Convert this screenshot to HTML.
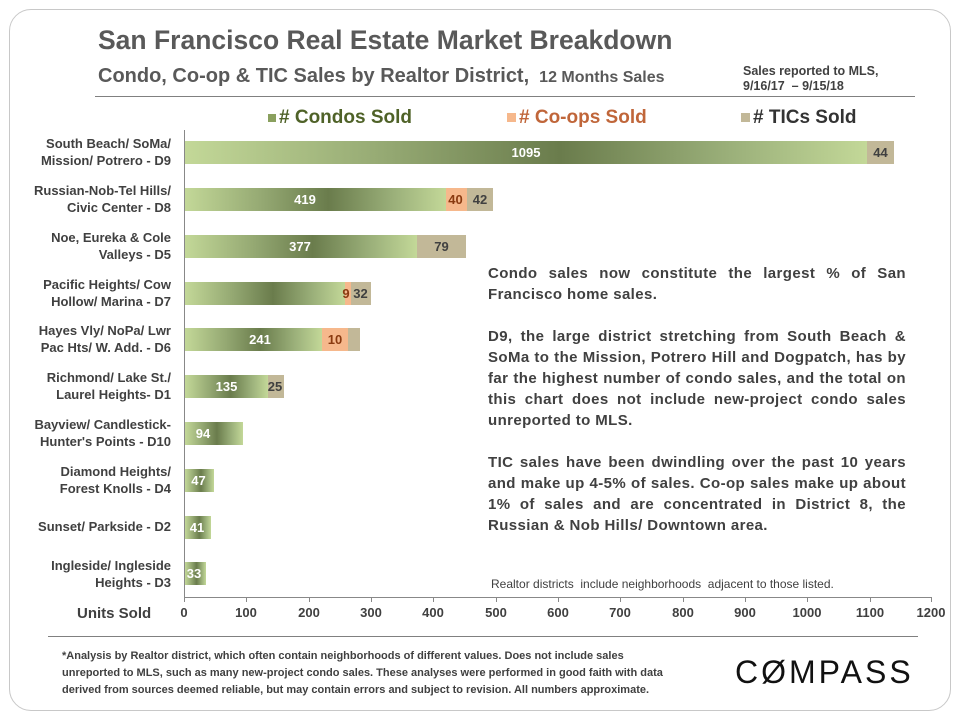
<!DOCTYPE html>
<html><head><meta charset="utf-8"><style>
body{margin:0;width:960px;height:720px;background:#fff;font-family:"Liberation Sans",sans-serif;position:relative;overflow:hidden}
.card{position:absolute;left:9px;top:9px;width:940px;height:700px;border:1.5px solid #c8c8c8;border-radius:22px}
.a{position:absolute;white-space:nowrap}
.lab{position:absolute;right:789px;text-align:right;font-size:13px;font-weight:bold;color:#404040;line-height:17px}
.bar{position:absolute;height:23px}
.c{background:linear-gradient(90deg,#c3d898 0%,#94a872 30%,#6a7c4c 55%,#9bb07a 80%,#c3d898 100%)}
.o{background:#f6b88c}
.t{background:#c2b898}
.v{position:absolute;font-size:13px;font-weight:bold;color:#fff;line-height:23px;text-align:center}
.tick{position:absolute;top:597px;width:1px;height:5px;background:#888}
.tl{position:absolute;top:605px;font-size:13px;font-weight:bold;color:#404040;width:40px;margin-left:-20px;text-align:center}
.txt{position:absolute;white-space:normal;font-size:15px;letter-spacing:0.4px;font-weight:bold;color:#404040;line-height:21px;text-align:justify}
</style></head><body>
<div class="card"></div>
<div class="a" style="left:98px;top:25px;font-size:26.5px;font-weight:bold;color:#595959">San Francisco Real Estate Market Breakdown</div>
<div class="a" style="left:98px;top:65px;font-size:20px;font-weight:bold;color:#595959">Condo, Co-op &amp; TIC Sales by Realtor District, <span style="font-size:16px">&nbsp;12 Months Sales</span></div>
<div class="a" style="left:743px;top:64px;font-size:12.5px;font-weight:bold;color:#404040;line-height:15px">Sales reported to MLS,<br>9/16/17 &nbsp;– 9/15/18</div>
<div class="a" style="left:95px;top:96px;width:820px;height:1px;background:#808080"></div>
<div class="a" style="left:268px;top:107px;font-size:19px;font-weight:bold;color:#4f6228"><span style="display:inline-block;width:8px;height:8px;background:#8aa05e;vertical-align:middle;margin-right:3px"></span># Condos Sold</div>
<div class="a" style="left:507px;top:107px;font-size:19px;font-weight:bold;color:#c0663a"><span style="display:inline-block;width:9px;height:9px;background:#f6b88c;vertical-align:middle;margin-right:3px"></span># Co-ops Sold</div>
<div class="a" style="left:741px;top:107px;font-size:19px;font-weight:bold;color:#333"><span style="display:inline-block;width:9px;height:9px;background:#c2b898;vertical-align:middle;margin-right:3px"></span># TICs Sold</div>

<div class="a" style="left:184px;top:130px;width:1px;height:467px;background:#888"></div>
<div class="a" style="left:184px;top:597px;width:748px;height:1px;background:#888"></div>

<div class="lab" style="top:135px">South Beach/ SoMa/<br>Mission/ Potrero - D9</div>
<div class="lab" style="top:182px">Russian-Nob-Tel Hills/<br>Civic Center - D8</div>
<div class="lab" style="top:229px">Noe, Eureka &amp; Cole<br>Valleys - D5</div>
<div class="lab" style="top:276px">Pacific Heights/ Cow<br>Hollow/ Marina - D7</div>
<div class="lab" style="top:322px">Hayes Vly/ NoPa/ Lwr<br>Pac Hts/ W. Add. - D6</div>
<div class="lab" style="top:369px">Richmond/ Lake St./<br>Laurel Heights- D1</div>
<div class="lab" style="top:416px">Bayview/ Candlestick-<br>Hunter's Points - D10</div>
<div class="lab" style="top:463px">Diamond Heights/<br>Forest Knolls - D4</div>
<div class="lab" style="top:518px">Sunset/ Parkside - D2</div>
<div class="lab" style="top:557px">Ingleside/ Ingleside<br>Heights - D3</div>

<div class="bar c" style="left:185px;top:141px;width:682px"></div>
<div class="bar t" style="left:867px;top:141px;width:27px"></div>
<div class="v" style="left:185px;top:141px;width:682px">1095</div>
<div class="v" style="left:867px;top:141px;width:27px;color:#404040">44</div>
<div class="bar c" style="left:185px;top:188px;width:261px"></div>
<div class="bar o" style="left:446px;top:188px;width:21px"></div>
<div class="bar t" style="left:467px;top:188px;width:26px"></div>
<div class="v" style="left:185px;top:188px;width:240px">419</div>
<div class="v" style="left:444px;top:188px;width:23px;color:#8a3a10">40</div>
<div class="v" style="left:467px;top:188px;width:26px;color:#404040">42</div>
<div class="bar c" style="left:185px;top:235px;width:232px"></div>
<div class="bar t" style="left:417px;top:235px;width:49px"></div>
<div class="v" style="left:185px;top:235px;width:230px">377</div>
<div class="v" style="left:417px;top:235px;width:49px;color:#404040">79</div>
<div class="bar c" style="left:185px;top:282px;width:160px"></div>
<div class="bar o" style="left:345px;top:282px;width:6px"></div>
<div class="bar t" style="left:351px;top:282px;width:20px"></div>
<div class="v" style="left:341px;top:282px;width:10px;color:#8a3a10">9</div>
<div class="v" style="left:350px;top:282px;width:21px;color:#404040">32</div>
<div class="bar c" style="left:185px;top:328px;width:137px"></div>
<div class="bar o" style="left:322px;top:328px;width:26px"></div>
<div class="bar t" style="left:348px;top:328px;width:12px"></div>
<div class="v" style="left:185px;top:328px;width:150px">241</div>
<div class="v" style="left:322px;top:328px;width:26px;color:#8a3a10">10</div>
<div class="bar c" style="left:185px;top:375px;width:83px"></div>
<div class="bar t" style="left:268px;top:375px;width:16px"></div>
<div class="v" style="left:185px;top:375px;width:83px">135</div>
<div class="v" style="left:265px;top:375px;width:20px;color:#404040">25</div>
<div class="bar c" style="left:185px;top:422px;width:58px"></div>
<div class="v" style="left:185px;top:422px;width:36px">94</div>
<div class="bar c" style="left:185px;top:469px;width:29px"></div>
<div class="v" style="left:185px;top:469px;width:27px">47</div>
<div class="bar c" style="left:185px;top:516px;width:26px"></div>
<div class="v" style="left:185px;top:516px;width:24px">41</div>
<div class="bar c" style="left:185px;top:562px;width:21px"></div>
<div class="v" style="left:185px;top:562px;width:18px">33</div>

<div class="txt" style="left:488px;top:263px;width:418px">Condo sales now constitute the largest % of San Francisco home sales.<br><br>D9, the large district stretching from South Beach &amp; SoMa to the Mission, Potrero Hill and Dogpatch, has by far the highest number of condo sales, and the total on this chart does not include new-project condo sales unreported to MLS.<br><br>TIC sales have been dwindling over the past 10 years and make up 4-5% of sales. Co-op sales make up about 1% of sales and are concentrated in District 8, the Russian &amp; Nob Hills/ Downtown area.</div>
<div class="a" style="left:491px;top:577px;font-size:12px;color:#404040">Realtor districts &nbsp;include neighborhoods &nbsp;adjacent to those listed.</div>

<div class="a" style="left:77px;top:605px;font-size:15px;font-weight:bold;color:#404040">Units Sold</div>
<div class="tick" style="left:184px"></div><div class="tl" style="left:184px">0</div>
<div class="tick" style="left:246px"></div><div class="tl" style="left:246px">100</div>
<div class="tick" style="left:309px"></div><div class="tl" style="left:309px">200</div>
<div class="tick" style="left:371px"></div><div class="tl" style="left:371px">300</div>
<div class="tick" style="left:433px"></div><div class="tl" style="left:433px">400</div>
<div class="tick" style="left:496px"></div><div class="tl" style="left:496px">500</div>
<div class="tick" style="left:558px"></div><div class="tl" style="left:558px">600</div>
<div class="tick" style="left:620px"></div><div class="tl" style="left:620px">700</div>
<div class="tick" style="left:683px"></div><div class="tl" style="left:683px">800</div>
<div class="tick" style="left:745px"></div><div class="tl" style="left:745px">900</div>
<div class="tick" style="left:807px"></div><div class="tl" style="left:807px">1000</div>
<div class="tick" style="left:870px"></div><div class="tl" style="left:870px">1100</div>
<div class="tick" style="left:931px"></div><div class="tl" style="left:931px">1200</div>

<div class="a" style="left:48px;top:636px;width:870px;height:1px;background:#808080"></div>
<div class="a" style="left:62px;top:648px;font-size:11px;font-weight:bold;color:#404040;line-height:17px">*Analysis by Realtor district, which often contain neighborhoods of different values. Does not include sales<br>unreported to MLS, such as many new-project condo sales. These analyses were performed in good faith with data<br>derived from sources deemed reliable, but may contain errors and subject to revision. All numbers approximate.</div>
<div class="a" style="left:735px;top:654px;font-size:32px;color:#111;letter-spacing:3px">C&#216;MPASS</div>
</body></html>
